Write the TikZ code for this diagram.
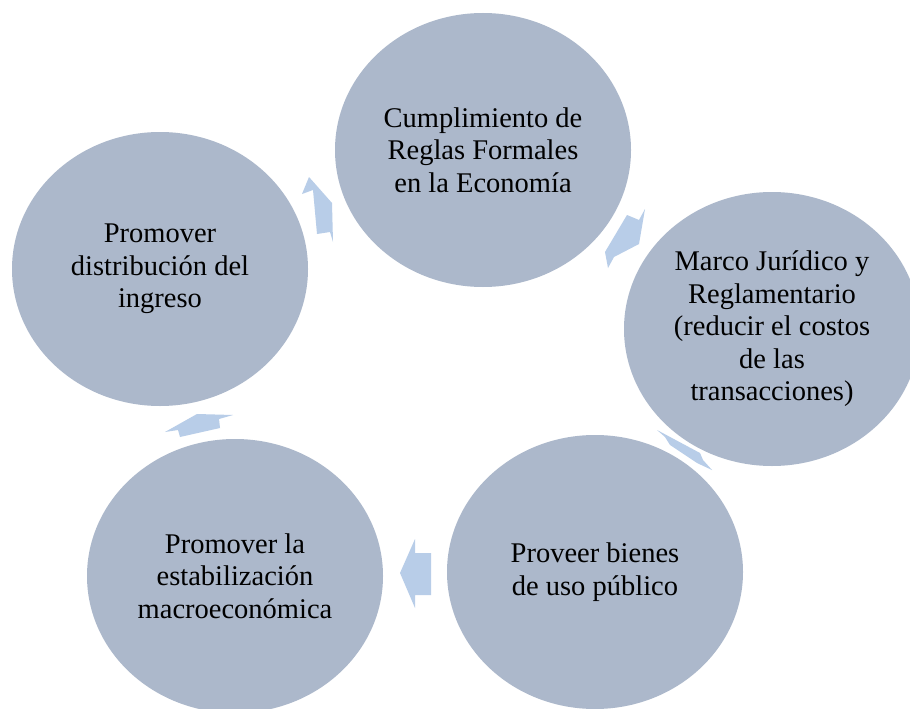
\documentclass[tikz,border=0pt]{standalone}
\usepackage{fontspec}
\setmainfont{Liberation Serif}
\usetikzlibrary{shapes.geometric}
\definecolor{disc}{RGB}{172,184,203}
\definecolor{arr}{RGB}{184,205,232}
\tikzset{
  stage/.style={ellipse, fill=disc, draw=none, minimum width=296pt, minimum height=274pt,
    inner sep=0pt, align=center, font=\fontsize{28.5}{32.5}\selectfont},
  blockarrow/.style={fill=arr, draw=none}
}
\begin{document}
\begin{tikzpicture}[x=1pt,y=-1pt]
\clip (0,0) rectangle (910,709);
\fill[white] (0,0) rectangle (910,709);
\node[stage] (top) at (483,150) {Cumplimiento de\\Reglas Formales\\en la Economía};
\node[stage] (right) at (772,329) {Marco Jurídico y\\Reglamentario\\(reducir el costos\\de las\\transacciones)};
\node[stage] (botr) at (595,572) {Proveer bienes\\de uso público};
\node[stage] (botl) at (235,576) {Promover la\\estabilización\\macroeconómica};
\node[stage] (left) at (160,269) {Promover\\distribución del\\ingreso};
% arrows
\fill[blockarrow] (309,177) -- (332,203) -- (333,242) -- (330,232) -- (317,234) -- (313,190) -- (302,194) -- cycle;
\fill[blockarrow] (627,215) -- (639,220) -- (645,209) -- (639,244) -- (614,257) -- (608,268) -- (605,252) -- cycle;
\fill[blockarrow] (657,430) -- (700,453) -- (703,460) -- (712,470) -- (697,463) -- (670,445) -- (665,437) -- cycle;
\fill[blockarrow] (400,573) -- (415,539) -- (415,553) -- (431,553) -- (431,595) -- (415,595) -- (415,608) -- cycle;
\fill[blockarrow] (165,432) -- (197,414) -- (233,415) -- (219,419) -- (220,428) -- (180,437) -- (178,430) -- cycle;
\end{tikzpicture}
\end{document}
